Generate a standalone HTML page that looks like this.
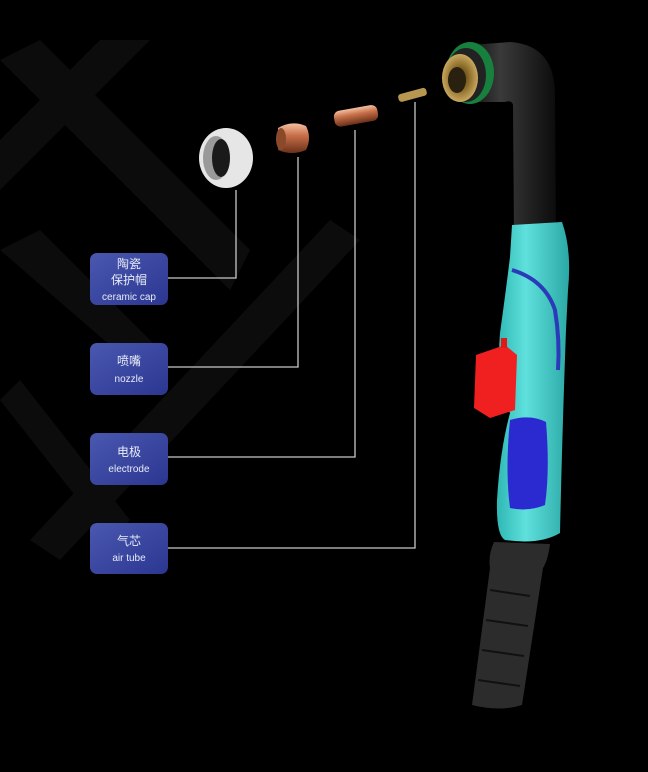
<!DOCTYPE html>
<html><head><meta charset="utf-8"><style>
html,body{margin:0;padding:0;background:#000;}
svg{display:block}
text{font-family:"Liberation Sans","Noto Sans CJK SC",sans-serif;fill:#e8ecf8;text-anchor:middle}
</style></head><body>
<svg width="648" height="772" viewBox="0 0 648 772" xmlns="http://www.w3.org/2000/svg">
<defs>
<linearGradient id="box" x1="0" y1="0" x2="1" y2="1">
<stop offset="0" stop-color="#4a58b0"/><stop offset="1" stop-color="#2b3690"/></linearGradient>
<linearGradient id="cy" x1="0" y1="0" x2="1" y2="0">
<stop offset="0" stop-color="#2fb8b4"/><stop offset="0.4" stop-color="#5fe0dc"/><stop offset="1" stop-color="#2aa8a6"/></linearGradient>
<linearGradient id="blk" x1="0" y1="0" x2="1" y2="0">
<stop offset="0" stop-color="#111"/><stop offset="0.35" stop-color="#3a3a3a"/><stop offset="1" stop-color="#0c0c0c"/></linearGradient>
<linearGradient id="cu" x1="0" y1="0" x2="0" y2="1">
<stop offset="0" stop-color="#f4c0a0"/><stop offset="0.4" stop-color="#c8704a"/><stop offset="1" stop-color="#6a3018"/></linearGradient>
<radialGradient id="brass" cx="0.5" cy="0.5" r="0.5">
<stop offset="0" stop-color="#3a2a10"/><stop offset="0.5" stop-color="#8a6a28"/><stop offset="1" stop-color="#c9a860"/></radialGradient>
</defs>
<rect width="648" height="772" fill="#000"/>
<g fill="#141414" opacity="0.6">
<polygon points="0,60 40,40 250,250 230,290"/>
<polygon points="100,40 150,40 0,190 0,140"/>
<polygon points="0,250 40,230 160,350 150,380"/>
<polygon points="330,220 360,240 60,560 30,540"/>
<polygon points="0,400 20,380 130,520 110,540"/>
</g>
<g stroke="#c8c8c8" stroke-width="1.3" fill="none">
<polyline points="168,278 236,278 236,190"/>
<polyline points="168,367 298,367 298,157"/>
<polyline points="168,457 355,457 355,130"/>
<polyline points="168,548 415,548 415,102"/>
</g>
<rect x="90" y="253" width="78" height="52" rx="7" fill="url(#box)"/>
<text x="129" y="268" font-size="12">陶瓷</text>
<text x="129" y="284" font-size="12">保护帽</text>
<text x="129" y="300" font-size="10" fill="#c8d0f0">ceramic cap</text>
<rect x="90" y="343" width="78" height="52" rx="7" fill="url(#box)"/>
<text x="129" y="365" font-size="12">喷嘴</text>
<text x="129" y="382" font-size="10" fill="#c8d0f0">nozzle</text>
<rect x="90" y="433" width="78" height="52" rx="7" fill="url(#box)"/>
<text x="129" y="456" font-size="12">电极</text>
<text x="129" y="472" font-size="10" fill="#c8d0f0">electrode</text>
<rect x="90" y="523" width="78" height="51" rx="7" fill="url(#box)"/>
<text x="129" y="545" font-size="12">气芯</text>
<text x="129" y="561" font-size="10" fill="#c8d0f0">air tube</text>
<ellipse cx="226" cy="158" rx="27" ry="30" fill="#e6e6e6"/>
<ellipse cx="216" cy="158" rx="13" ry="22" fill="#9a9a9a"/>
<ellipse cx="221" cy="158" rx="9" ry="19" fill="#1a1a1a"/>
<path d="M278,128 Q292,120 306,126 Q312,138 306,150 Q292,156 278,150 Z" fill="url(#cu)"/>
<ellipse cx="281" cy="139" rx="5" ry="11" fill="#8a4a2a"/>
<g transform="rotate(-10 355 116)">
<rect x="334" y="108" width="44" height="16" rx="6" fill="url(#cu)"/>
</g>
<g transform="rotate(-15 412 95)">
<rect x="398" y="91" width="29" height="8" rx="3" fill="#b89850"/>
</g>
<path d="M470,45 L510,42 Q555,45 555,95 L556,235 L514,235 L513,105 Q512,100 505,102 L470,102 Z" fill="url(#blk)"/>
<ellipse cx="470" cy="73" rx="24" ry="31" fill="#17803e"/>
<ellipse cx="466" cy="75" rx="20" ry="27" fill="#222"/>
<ellipse cx="460" cy="78" rx="18" ry="24" fill="url(#brass)"/>
<ellipse cx="457" cy="80" rx="9" ry="13" fill="#2a2010"/>
<path d="M512,225 L562,222 Q572,250 568,290 L566,330 Q562,440 560,533 Q540,545 505,540 Q496,535 497,500 Q500,450 510,413 Q496,380 500,333 Q506,290 510,257 Z" fill="url(#cy)"/>
<path d="M512,270 Q545,280 555,310 Q560,340 558,370" stroke="#2a3ab8" stroke-width="4" fill="none"/>
<path d="M510,420 Q530,414 546,422 Q550,470 545,505 Q528,512 510,508 Q505,470 510,420 Z" fill="#2a2ad0"/>
<path d="M476,355 L505,345 L517,355 L515,410 L490,418 L474,408 Z" fill="#f02020"/>
<rect x="501" y="338" width="6" height="10" fill="#e01818"/>
<path d="M494,542 L550,544 Q548,560 543,568 L522,705 Q500,712 472,705 L490,568 Q488,555 494,542 Z" fill="#2c2c2c"/>
<g stroke="#111" stroke-width="2">
<line x1="490" y1="590" x2="530" y2="596"/><line x1="486" y1="620" x2="528" y2="626"/>
<line x1="482" y1="650" x2="524" y2="656"/><line x1="478" y1="680" x2="520" y2="686"/>
</g>
</svg>
</body></html>
